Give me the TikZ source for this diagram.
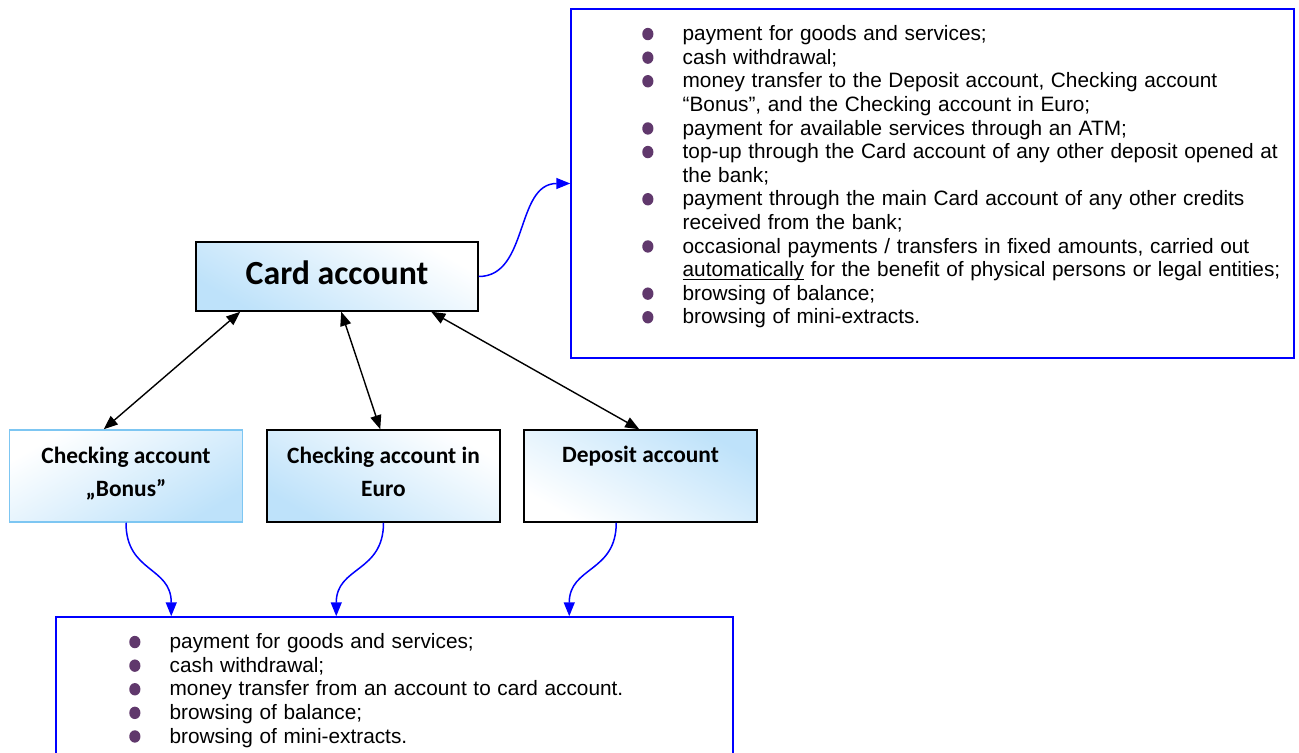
\documentclass[tikz,border=0pt]{standalone}
\usepackage{fontspec}
\setmainfont{Liberation Sans}
\newfontfamily\boxfont{Carlito}
\usetikzlibrary{arrows.meta}

\definecolor{boxblue}{RGB}{190,226,250}
\definecolor{bonusline}{RGB}{125,198,242}
\definecolor{bulletcol}{RGB}{96,56,108}
\definecolor{linkblue}{RGB}{0,0,255}

% purple bullet of the two lists
\newcommand{\opbullet}{\tikz[x=1cm,y=1cm,baseline=-0.6ex]\fill[bulletcol] (0,0) ellipse (2.8pt and 3.1pt);}
\newenvironment{oplist}{\fontsize{10.4}{11.8}\selectfont
\begin{list}{\opbullet}{\setlength{\leftmargin}{20pt}\setlength{\labelwidth}{5.6pt}%
\setlength{\labelsep}{14.6pt}\setlength{\itemsep}{0pt}\setlength{\parsep}{0pt}%
\setlength{\topsep}{0pt}\setlength{\partopsep}{0pt}}}{\end{list}}

\tikzset{
  acct/.style={draw, line width=0.75pt, minimum width=116.5pt, minimum height=46pt,
    inner sep=0pt, align=center, font=\boxfont\bfseries\fontsize{11.7}{16.5}\selectfont},
  shadebox/.style={top color=white, bottom color=boxblue, shading angle=#1},
  opsbox/.style={draw=linkblue, line width=0.75pt},
  listnode/.style={inner sep=0pt, anchor=north west, text width=#1},
  dbl/.style={{Triangle[length=7pt,width=5.5pt]}-{Triangle[length=7pt,width=5.5pt]}, line width=0.7pt},
  link/.style={-{Triangle[length=7pt,width=5.5pt]}, draw=linkblue, line width=0.75pt}
}

\begin{document}
\begin{tikzpicture}[x=0.5pt,y=-0.5pt]
\useasboundingbox (0,0) rectangle (1299,753);

\node[draw, line width=0.75pt, shadebox=-30, minimum width=141pt, minimum height=34.5pt,
  text depth=3.5pt, font=\boxfont\bfseries\fontsize{16.9}{20}\selectfont] (card) at (337,276.5) {Card account};

\node[acct, draw=bonusline, shadebox=30, text depth=4pt] (bonus) at (126,476) {Checking account\\„Bonus”};
\node[acct, shadebox=-30, text depth=4pt] (euro) at (383.5,476) {Checking account in\\Euro};
\node[acct, shadebox=150] (deposit) at (640.5,476) {Deposit account\\\strut};

% operations on the card account
\node[opsbox, minimum width=361.5pt, minimum height=174.5pt] (ops) at (932.5,183.5) {};
\node[listnode=340pt] (opslist) at ([shift={(72,8.4)}]ops.north west) {%
\begin{oplist}
\item payment for goods and services;
\item cash withdrawal;
\item money transfer to the Deposit account, Checking account\\“Bonus”, and the Checking account in Euro;
\item payment for available services through an ATM;
\item top-up through the Card account of any other deposit opened at\\the bank;
\item payment through the main Card account of any other credits\\received from the bank;
\item occasional payments / transfers in fixed amounts, carried out\\\underline{\smash{automatically}} for the benefit of physical persons or legal entities;
\item browsing of balance;
\item browsing of mini-extracts.
\end{oplist}};

% operations on the other accounts
\node[opsbox, minimum width=338.5pt, minimum height=75pt] (acts) at (394.5,692) {};
\node[listnode=300pt] (actslist) at ([shift={(74,8.4)}]acts.north west) {%
\begin{oplist}
\item payment for goods and services;
\item cash withdrawal;
\item money transfer from an account to card account.
\item browsing of balance;
\item browsing of mini-extracts.
\end{oplist}};

\draw[dbl] ([shift={(45,0)}]card.south west) -- ([shift={(95,0)}]bonus.north west);
\draw[dbl] ([shift={(146,0)}]card.south west) -- ([shift={(114,0)}]euro.north west);
\draw[dbl] ([shift={(236,0)}]card.south west) -- ([shift={(116,0)}]deposit.north west);

\draw[link] (card.east) .. controls +(50,0) and +(-55,0) .. (ops.west);
\draw[link] (bonus.south) .. controls +(0,50) and +(0,-50) .. ([shift={(116,0)}]acts.north west);
\draw[link] (euro.south) .. controls +(0,50) and +(0,-50) .. ([shift={(281,0)}]acts.north west);
\draw[link] ([shift={(93,0)}]deposit.south west) .. controls +(0,50) and +(0,-50) .. ([shift={(514,0)}]acts.north west);
\end{tikzpicture}
\end{document}
